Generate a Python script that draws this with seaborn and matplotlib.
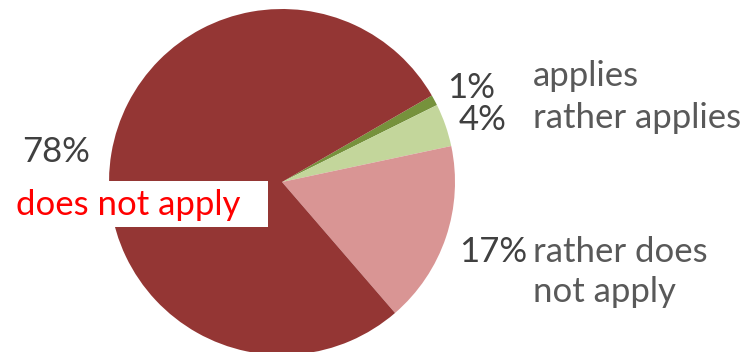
import matplotlib
matplotlib.use("Agg")
import matplotlib.pyplot as plt
import seaborn as sns
from matplotlib.patches import Rectangle

categories = ["applies", "rather applies", "rather does\nnot apply", "does not apply"]
values = [1, 4, 17, 78]
pct_labels = ["1%", "4%", "17%", "78%"]
colors = ["#76923C", "#C3D69B", "#D99594", "#943634"]

sns.set_theme(style="white")
plt.rcParams['font.family'] = ['Lato', 'DejaVu Sans']

W, H = 747, 352
fig = plt.figure(figsize=(W / 100, H / 100), dpi=100)
ax = fig.add_axes([0, 0, 1, 1])
ax.set_xlim(0, W)
ax.set_ylim(0, H)
ax.set_aspect("equal")
ax.axis("off")

cx, cy, r = 282, H - 182, 173
ax.pie(values, colors=colors, startangle=30, counterclock=False,
       center=(cx, cy), radius=r, frame=True,
       wedgeprops=dict(linewidth=0))
ax.set_xlim(0, W)
ax.set_ylim(0, H)
ax.axis("off")

# white box behind the label
ax.add_patch(Rectangle((10, H - 227), 258, 46, facecolor="white", edgecolor="none", zorder=5))

fs = 25
pc = "#404040"
lc = "#595959"

def T(x, y, s, color, ha="left"):
    ax.text(x, H - y, s, fontsize=fs, color=color, ha=ha, va="baseline", zorder=6)

T(495, 98, pct_labels[0], pc, ha="right")
T(507, 130, pct_labels[1], pc, ha="right")
T(527, 262, pct_labels[2], pc, ha="right")
T(90, 162, pct_labels[3], pc, ha="right")

T(533, 86, categories[0], lc)
T(533, 128, categories[1], lc)
T(533, 262, "rather does", lc)
T(533, 302, "not apply", lc)
T(16, 215, categories[3], "#FF0000")

fig.savefig("out.png", dpi=100)
